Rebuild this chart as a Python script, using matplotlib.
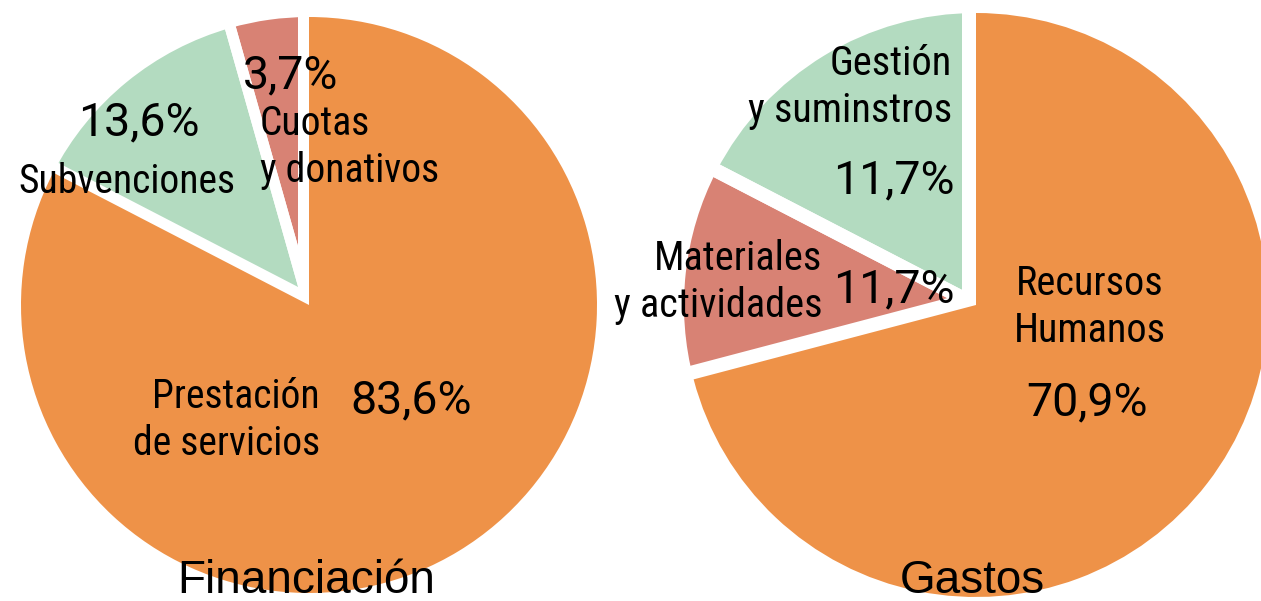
import numpy as np
import matplotlib.pyplot as plt
from matplotlib import font_manager

W, H = 1261, 601

# Financiación (slice sizes as drawn, percentage texts as printed)
fin_labels = ["Prestación\nde servicios", "Subvenciones", "Cuotas\ny donativos"]
fin_values = [82.6, 13.0, 4.4]
fin_pct = ["83,6%", "13,6%", "3,7%"]

# Gastos
gas_labels = ["Recursos\nHumanos", "Materiales\ny actividades", "Gestión\ny suminstros"]
gas_values = [70.9, 11.7, 17.4]
gas_pct = ["70,9%", "11,7%", "11,7%"]

orange, green, red = "#EE9248", "#B3DBC0", "#D88274"
fin_colors = [orange, green, red]
gas_colors = [orange, red, green]

installed = {f.name for f in font_manager.fontManager.ttflist}


def first_font(*names):
    for n in names:
        if n in installed:
            return [n, "DejaVu Sans"]
    return ["DejaVu Sans"]


narrow = first_font("Roboto Condensed", "Archivo Narrow", "Liberation Sans Narrow", "Asap Condensed")
pctfont = first_font("Roboto", "Liberation Sans")
regular = first_font("Liberation Sans", "Arimo", "DejaVu Sans")

fig = plt.figure(figsize=(W / 100, H / 100), dpi=100)


def pie_axes(cx, cy, r):
    lim = 1.1
    ax = fig.add_axes([(cx - lim * r) / W, (H - cy - lim * r) / H,
                       2 * lim * r / W, 2 * lim * r / H])
    return ax


def draw_pie(ax, values, colors, gap):
    wedges, _ = ax.pie(values, colors=colors, startangle=90, counterclock=False,
                       radius=1, wedgeprops=dict(linewidth=0))
    ax.set_xlim(-1.1, 1.1)
    ax.set_ylim(-1.1, 1.1)
    ax.axis("off")
    big = wedges[0]
    big.set_zorder(4)
    big_edges = [big.theta1 % 360, big.theta2 % 360]
    # white gaps cut into the small slices only
    for w in wedges[1:]:
        for ang in (w.theta1, w.theta2):
            touches = any(np.isclose(ang % 360, a) for a in big_edges)
            lw = (2 * gap if touches else gap) * 0.72
            t = np.deg2rad(ang)
            ax.plot([0, 1.03 * np.cos(t)], [0, 1.03 * np.sin(t)], color="white",
                    lw=lw, solid_capstyle="butt", zorder=3)


def put(text, x, y, size, ha, family, lead=47):
    for i, line in enumerate(text.split("\n")):
        fig.text(x / W, 1 - (y + i * lead) / H, line, ha=ha, va="baseline",
                 fontsize=size, family=family, zorder=5)


ax1 = pie_axes(309, 305, 288)
draw_pie(ax1, fin_values, fin_colors, 11)

ax2 = pie_axes(976, 305, 292)
draw_pie(ax2, gas_values, gas_colors, 14)

# labels: (x, first baseline, alignment)
fin_label_pos = [(320, 408, "right"), (18, 193, "left"), (260, 135, "left")]
fin_pct_pos = [(350, 413, "left"), (78, 135, "left"), (243, 88, "left")]
for txt, (x, y, ha) in zip(fin_labels, fin_label_pos):
    put(txt, x, y, 28.5, ha, narrow)
for txt, (x, y, ha) in zip(fin_pct, fin_pct_pos):
    put(txt, x, y, 33.5, ha, pctfont)

gas_label_pos = [(1090, 295, "center"), (822, 270, "right"), (952, 75, "right")]
gas_pct_pos = [(1087, 415, "center"), (955, 302, "right"), (955, 193, "right")]
for txt, (x, y, ha) in zip(gas_labels, gas_label_pos):
    put(txt, x, y, 29, ha, narrow)
for txt, (x, y, ha) in zip(gas_pct, gas_pct_pos):
    put(txt, x, y, 33.5, ha, pctfont)

put("Financiación", 306, 593, 33, "center", regular)
put("Gastos", 972, 593, 33, "center", regular)

fig.savefig("out.png", dpi=100)
